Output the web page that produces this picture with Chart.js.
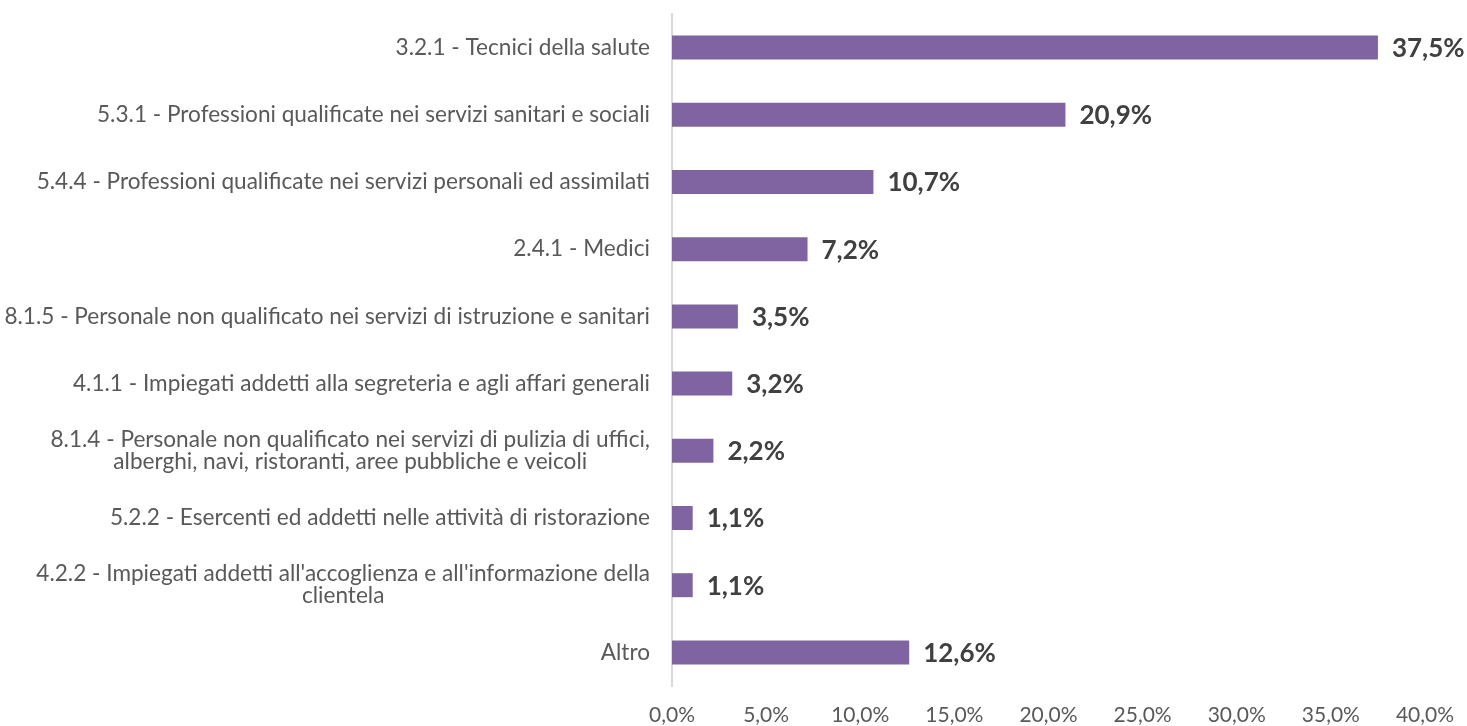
<!DOCTYPE html>
<html>
<head>
	<meta charset="utf-8"/>
	<script src="https://cdn.jsdelivr.net/npm/chart.js@4/dist/chart.umd.min.js"></script>
	<style>
		html, body { margin: 0; padding: 0; background: #fff; }
		#box { width: 1467px; height: 726px; }
	</style>
</head>
<body>
	<div id="box"><canvas id="chart"></canvas></div>
	<script>
		var categorie = [
			"3.2.1 - Tecnici della salute",
			"5.3.1 - Professioni qualificate nei servizi sanitari e sociali",
			"5.4.4 - Professioni qualificate nei servizi personali ed assimilati",
			"2.4.1 - Medici",
			"8.1.5 - Personale non qualificato nei servizi di istruzione e sanitari",
			"4.1.1 - Impiegati addetti alla segreteria e agli affari generali",
			["8.1.4 - Personale non qualificato nei servizi di pulizia di uffici,", "alberghi, navi, ristoranti, aree pubbliche e veicoli"],
			"5.2.2 - Esercenti ed addetti nelle attività di ristorazione",
			["4.2.2 - Impiegati addetti all'accoglienza e all'informazione della", "clientela"],
			"Altro"
		];
		var percentuali = [37.5, 20.9, 10.7, 7.2, 3.5, 3.2, 2.2, 1.1, 1.1, 12.6];
		var assePassi = [0, 5, 10, 15, 20, 25, 30, 35, 40];

		function virgola(v, dec) {
			return v.toFixed(dec).replace(".", ",") + "%";
		}

		// etichette dei valori a destra delle barre
		var etichette = {
			id: "etichette",
			afterDatasetsDraw: function(chart) {
				var ctx = chart.ctx;
				var meta = chart.getDatasetMeta(0);
				ctx.save();
				ctx.font = "bold 26px Lato";
				ctx.fillStyle = "#404040";
				ctx.textAlign = "left";
				ctx.textBaseline = "middle";
				meta.data.forEach(function(bar, i) {
					ctx.fillText(virgola(percentuali[i], 1), bar.x + 14, bar.y + 1);
				});
				ctx.restore();
			}
		};

		// categorie: blocco allineato a destra, righe centrate
		var categorieAsse = {
			id: "categorieAsse",
			afterDraw: function(chart) {
				var ctx = chart.ctx;
				var y = chart.scales.y;
				var destra = y.right - 22;
				var interlinea = 22;
				ctx.save();
				ctx.font = "22.6px Lato";
				ctx.fillStyle = "#595959";
				ctx.textAlign = "center";
				ctx.textBaseline = "middle";
				categorie.forEach(function(c, i) {
					var righe = Array.isArray(c) ? c : [c];
					var larg = Math.max.apply(null, righe.map(function(r) { return ctx.measureText(r).width; }));
					var cx = destra - larg / 2;
					var py = y.getPixelForTick(i) - (righe.length - 1) * interlinea / 2;
					righe.forEach(function(r, k) {
						ctx.fillText(r, cx, py + k * interlinea);
					});
				});
				ctx.restore();
			}
		};

		Chart.defaults.font.family = "Lato";
		Chart.defaults.color = "#595959";

		new Chart(document.getElementById("chart").getContext("2d"), {
			type: "bar",
			data: {
				labels: categorie,
				datasets: [{
					data: percentuali,
					backgroundColor: "#8064A2",
					barPercentage: 0.714,
					categoryPercentage: 0.5
				}]
			},
			options: {
				indexAxis: "y",
				responsive: true,
				maintainAspectRatio: false,
				animation: false,
				layout: { padding: { top: 14, right: 42, bottom: 0, left: 0 } },
				plugins: {
					legend: { display: false },
					tooltip: { enabled: false }
				},
				scales: {
					x: {
						min: 0,
						max: 40,
						afterBuildTicks: function(s) {
							s.ticks = assePassi.map(function(v) { return { value: v }; });
						},
						afterFit: function(s) {
							s.height = 40;
							s.paddingLeft = 0;
							s.paddingRight = 0;
						},
						ticks: {
							font: { size: 21, lineHeight: 1 },
							padding: 19,
							maxRotation: 0,
							callback: function(v) { return virgola(v, 1); }
						},
						grid: { display: false, drawTicks: false },
						border: { display: false }
					},
					y: {
						afterFit: function(s) { s.width = 672; },
						ticks: { display: false },
						grid: { display: false, drawTicks: false },
						border: { display: true, color: "#d9d9d9", width: 2 }
					}
				}
			},
			plugins: [etichette, categorieAsse]
		});
	</script>
</body>
</html>
